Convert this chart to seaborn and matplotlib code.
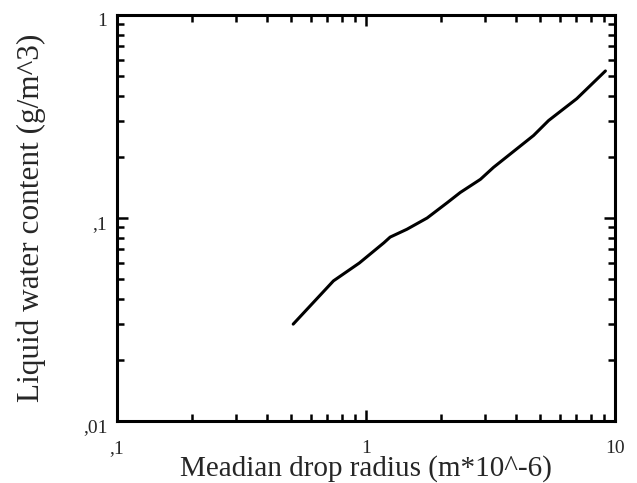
import matplotlib
matplotlib.use("Agg")
import matplotlib.pyplot as plt
import matplotlib.ticker as mticker
from matplotlib.transforms import ScaledTranslation
import seaborn as sns
import pandas as pd

# Data
drop_radius = [0.51, 0.74, 0.94, 1.18, 1.25, 1.46, 1.76, 2.12, 2.39, 2.88, 3.25, 4.71, 5.41, 7.02, 9.15]
lwc = [0.030, 0.049, 0.060, 0.0755, 0.0805, 0.088, 0.100, 0.119, 0.1335, 0.155, 0.1775, 0.255, 0.302, 0.387, 0.53]

x_ticks = [0.1, 1, 10]
x_tick_labels = [",1", "1", "10"]
y_ticks = [0.01, 0.1, 1]
y_tick_labels = [",01", ",1", "1"]

sns.set_style("ticks")
plt.rcParams["font.family"] = ["Liberation Serif", "DejaVu Serif"]

df = pd.DataFrame({"r": drop_radius, "lwc": lwc})

fig = plt.figure(figsize=(6.37, 4.83), dpi=100)
ax = fig.add_axes([0.1837, 0.1284, 0.7818, 0.8406])

sns.lineplot(data=df, x="r", y="lwc", ax=ax, color="black", linewidth=2.2, sort=False)

ax.set_xscale("log")
ax.set_yscale("log")
ax.set_xlim(0.1, 10)
ax.set_ylim(0.01, 1)

ax.set_xticks(x_ticks)
ax.set_xticklabels(x_tick_labels)
ax.set_yticks(y_ticks)
ax.set_yticklabels(y_tick_labels)
ax.xaxis.set_minor_locator(mticker.LogLocator(base=10, subs=range(2, 10)))
ax.yaxis.set_minor_locator(mticker.LogLocator(base=10, subs=range(2, 10)))
ax.xaxis.set_minor_formatter(mticker.NullFormatter())
ax.yaxis.set_minor_formatter(mticker.NullFormatter())

ax.tick_params(which="both", direction="in", top=True, right=True, color="black", width=1.8)
ax.tick_params(which="major", length=8, labelsize=14)
ax.tick_params(which="minor", length=5)
ax.tick_params(axis="x", which="major", pad=13.5)
ax.tick_params(axis="y", which="major", pad=7)

# y tick labels in the reference sit slightly below their ticks
for lab in ax.get_yticklabels():
    lab.set_transform(lab.get_transform() + ScaledTranslation(0, -3 / 72, fig.dpi_scale_trans))

for s in ax.spines.values():
    s.set_linewidth(2.2)
    s.set_color("black")

ax.set_xlabel("Meadian drop radius (m*10^-6)", fontsize=21)
ax.set_ylabel("Liquid water content (g/m^3)", fontsize=22.5)
ax.xaxis.set_label_coords(0.5, -0.084)
ax.yaxis.set_label_coords(-0.142, 0.5)

fig.savefig("out.png", dpi=100, facecolor="white")
